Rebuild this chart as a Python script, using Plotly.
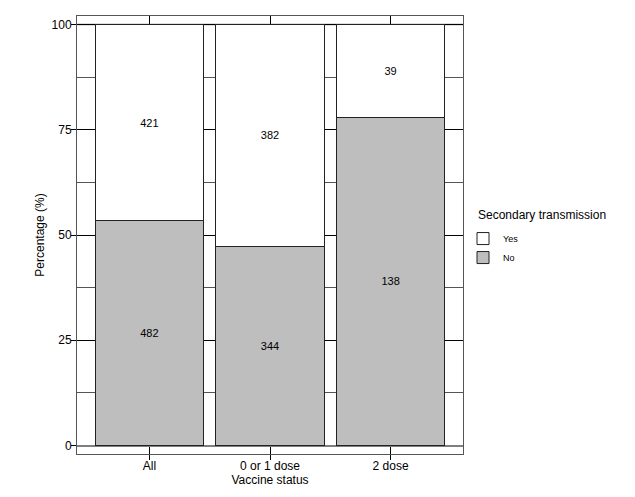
import plotly.graph_objects as go

# данные
categories = ["All", "0 or 1 dose", "2 dose"]
no_counts = [482, 344, 138]
yes_counts = [421, 382, 39]

totals = [n + y for n, y in zip(no_counts, yes_counts)]
no_pct = [100 * n / t for n, t in zip(no_counts, totals)]
yes_pct = [100 * y / t for y, t in zip(yes_counts, totals)]

FONT = "Liberation Sans, Arial, sans-serif"

fig = go.Figure()

fig.add_trace(go.Bar(
    x=categories, y=no_pct, name="No",
    text=[str(v) for v in no_counts],
    textposition="inside", insidetextanchor="middle",
    textfont=dict(size=11, color="black", family=FONT),
    marker=dict(color="#bebebe", line=dict(color="#222222", width=1)),
    width=0.9,
))
fig.add_trace(go.Bar(
    x=categories, y=yes_pct, name="Yes",
    text=[str(v) for v in yes_counts],
    textposition="inside", insidetextanchor="middle",
    textfont=dict(size=11, color="black", family=FONT),
    marker=dict(color="white", line=dict(color="#222222", width=1)),
    width=0.9,
))

# линия 100 серым
fig.add_shape(type="line", xref="paper", x0=0, x1=1, yref="y", y0=100, y1=100,
              line=dict(color="#7f7f7f", width=1.5), layer="below")

# заголовок легенды
fig.add_annotation(text="Secondary transmission", xref="paper", yref="paper",
                   x=1.033, y=0.545, xanchor="left", yanchor="middle",
                   showarrow=False, font=dict(size=12))

fig.update_layout(
    barmode="stack",
    width=635, height=497,
    margin=dict(l=77, r=172, t=16, b=43, autoexpand=False),
    plot_bgcolor="white", paper_bgcolor="white",
    font=dict(family=FONT, color="black", size=12),
    uniformtext=dict(minsize=11, mode="show"),
    showlegend=True,
    legend=dict(
        traceorder="reversed",
        x=1.0, xanchor="left", y=0.525, yanchor="top",
        font=dict(size=9),
        itemwidth=30, tracegroupgap=0,
        bgcolor="rgba(0,0,0,0)",
    ),
    xaxis=dict(
        range=[-0.6, 2.6], automargin=False,
        title=dict(text="Vaccine status", standoff=0, font=dict(size=12)),
        showgrid=True, gridcolor="black", gridwidth=1,
        ticks="outside", ticklen=5, tickcolor="black", ticklabelstandoff=-4,
        showline=True, linecolor="#555555", linewidth=1, mirror=True,
        tickfont=dict(size=12),
    ),
    yaxis=dict(
        range=[-2, 102], automargin=False,
        tickvals=[0, 25, 50, 75, 100],
        title=dict(text="Percentage (%)", standoff=4, font=dict(size=12)),
        showgrid=True, gridcolor="black", gridwidth=1,
        zeroline=True, zerolinecolor="#7f7f7f", zerolinewidth=1.5,
        minor=dict(dtick=12.5, tick0=0, showgrid=True, gridcolor="#555555", gridwidth=1),
        ticks="outside", ticklen=5, tickcolor="black", ticklabelstandoff=-3,
        showline=True, linecolor="#555555", linewidth=1, mirror=True,
        tickfont=dict(size=12),
    ),
)

# убираем отступ body, чтобы график начинался с 0,0
fig.write_html("out.html", config={"displayModeBar": False},
               post_script="document.body.style.margin='0';")
